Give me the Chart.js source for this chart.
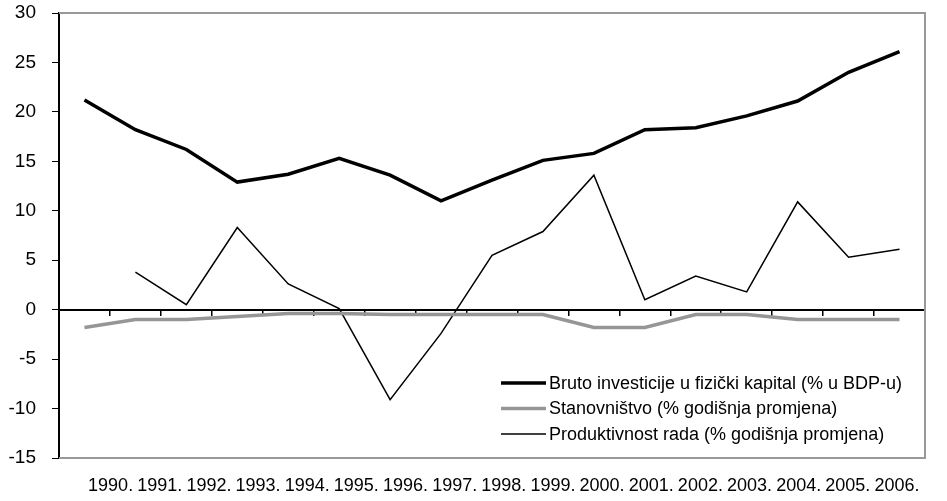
<!DOCTYPE html>
<html>
<head>
<meta charset="utf-8">
<script src="https://cdn.jsdelivr.net/npm/chart.js@4.4.1/dist/chart.umd.min.js"></script>
<style>
    html, body { margin: 0; padding: 0; background: #fff; }
</style>
</head>
<body>
<canvas id="chart" width="947" height="501"></canvas>
<script>
// Data
const years = ['1990.', '1991.', '1992.', '1993.', '1994.', '1995.', '1996.', '1997.', '1998.',
    '1999.', '2000.', '2001.', '2002.', '2003.', '2004.', '2005.', '2006.'];
const investicije = [21.2, 18.2, 16.2, 12.9, 13.7, 15.3, 13.6, 11.0, 13.1, 15.1, 15.8, 18.2, 18.4, 19.6, 21.1, 24.0, 26.1];
const stanovnistvo = [-1.8, -1.0, -1.0, -0.7, -0.4, -0.4, -0.5, -0.5, -0.5, -0.5, -1.8, -1.8, -0.5, -0.5, -1.0, -1.0, -1.0];
const produktivnost = [null, 3.8, 0.5, 8.3, 2.6, 0.1, -9.1, -2.4, 5.5, 7.9, 13.6, 1.0, 3.4, 1.8, 10.9, 5.3, 6.1];
const seriesNames = [
    'Bruto investicije u fizički kapital (% u BDP-u)',
    'Stanovništvo (% godišnja promjena)',
    'Produktivnost rada (% godišnja promjena)'
];
const yMin = -15, yMax = 30, yStep = 5;

const FONT = 'Arial, "Liberation Sans", sans-serif';

// gray frame on top, right and bottom of the plot area
const frame = {
    id: 'frame',
    beforeDatasetsDraw(chart) {
        const { ctx, chartArea: a } = chart;
        ctx.save();
        ctx.strokeStyle = '#999';
        ctx.lineWidth = 2;
        ctx.beginPath();
        ctx.moveTo(a.left, a.top);
        ctx.lineTo(a.right, a.top);
        ctx.lineTo(a.right, a.bottom);
        ctx.lineTo(a.left, a.bottom);
        ctx.stroke();
        ctx.restore();
    }
};

// legend in the lower right corner of the plot
const legendBox = {
    id: 'legendBox',
    afterDatasetsDraw(chart) {
        const { ctx, chartArea: a } = chart;
        const x = a.right - 424;
        let y = a.bottom - 75;
        ctx.save();
        ctx.font = '18px ' + FONT;
        ctx.textBaseline = 'middle';
        chart.data.datasets.forEach(ds => {
            ctx.strokeStyle = ds.borderColor;
            ctx.lineWidth = ds.borderWidth;
            ctx.beginPath();
            ctx.moveTo(x, y);
            ctx.lineTo(x + 45, y);
            ctx.stroke();
            ctx.fillStyle = '#000';
            ctx.fillText(ds.label, x + 48, y + 1);
            y += 25.5;
        });
        ctx.restore();
    }
};

const ctx = document.getElementById('chart').getContext('2d');
const chart = new Chart(ctx, {
    type: 'line',
    data: {
        labels: years,
        datasets: [{
            label: seriesNames[0],
            data: investicije,
            borderColor: '#000',
            borderWidth: 3.5
        }, {
            label: seriesNames[1],
            data: stanovnistvo,
            borderColor: '#969696',
            borderWidth: 3.5
        }, {
            label: seriesNames[2],
            data: produktivnost,
            borderColor: '#000',
            borderWidth: 1.5
        }]
    },
    options: {
        responsive: false,
        animation: false,
        layout: { padding: { top: 13, right: 22, left: 0, bottom: 0 } },
        elements: { point: { radius: 0 }, line: { tension: 0 } },
        plugins: { legend: { display: false }, tooltip: { enabled: false } },
        scales: {
            x: {
                type: 'category',
                offset: true,
                position: { y: 0 },
                grid: { offset: true, drawOnChartArea: false, drawTicks: true, tickLength: 5, color: '#000', lineWidth: 1.5 },
                border: { color: '#000', width: 2 },
                ticks: { display: false }
            },
            x2: {
                type: 'linear',
                position: 'bottom',
                min: -1.05,
                max: 16.57,
                grid: { display: false, drawTicks: false },
                border: { display: false },
                ticks: {
                    stepSize: 1,
                    autoSkip: false,
                    maxRotation: 0,
                    includeBounds: false,
                    padding: 17,
                    color: '#000',
                    font: { family: FONT, size: 18 },
                    callback: v => years[v] ?? ''
                },
                afterFit(s) { s.height = 43; }
            },
            y: {
                min: yMin,
                max: yMax,
                ticks: { stepSize: yStep, padding: 16, color: '#000', font: { family: FONT, size: 19 } },
                grid: { drawOnChartArea: false, drawTicks: true, tickLength: 7, color: '#000' },
                border: { color: '#000', width: 2 },
                afterFit(s) {
                    s.width = 59;
                    s.paddingTop = 0;
                    s.paddingBottom = 0;
                }
            }
        }
    },
    plugins: [frame, legendBox]
});
</script>
</body>
</html>
